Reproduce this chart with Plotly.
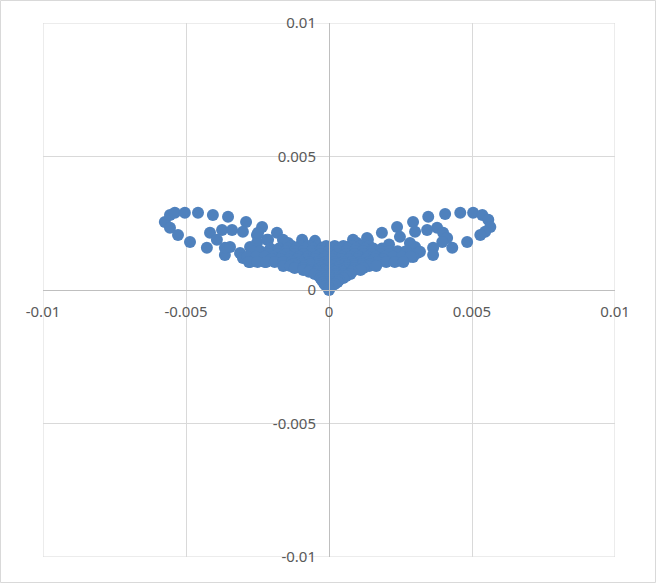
import plotly.graph_objects as go

# ---- data ----
left_wing_x = [-0.00574, -0.00556, -0.00539, -0.00504, -0.00458, -0.00406, -0.00353, -0.00290,
               -0.00234, -0.00182, -0.00556, -0.00528, -0.00486, -0.00427, -0.00416, -0.00374,
               -0.00339, -0.00301, -0.00392, -0.00364, -0.00364, -0.00311, -0.00252, -0.00252,
               -0.00276, -0.00217, -0.00161, -0.00143, -0.00094, -0.00059, -0.00301, -0.00276,
               -0.00224, -0.00248, -0.00213, -0.00346, -0.00094, -0.00049]
left_wing_y = [0.00255, 0.00281, 0.00289, 0.00289, 0.00289, 0.00281, 0.00274, 0.00255,
               0.00236, 0.00214, 0.00233, 0.00206, 0.00180, 0.00158, 0.00214, 0.00225,
               0.00225, 0.00218, 0.00188, 0.00131, 0.00158, 0.00139, 0.00206, 0.00176,
               0.00161, 0.00188, 0.00188, 0.00176, 0.00176, 0.00161, 0.00120, 0.00105,
               0.00105, 0.00214, 0.00188, 0.00161, 0.00188, 0.00184]

right_wing_x = [0.00294, 0.00301, 0.00347, 0.00406, 0.00459, 0.00504, 0.00536, 0.00557,
                0.00564, 0.00546, 0.00529, 0.00483, 0.00431, 0.00343, 0.00378, 0.00399,
                0.00413, 0.00396, 0.00364, 0.00364, 0.00301, 0.00308, 0.00098, 0.00063,
                0.00136, 0.00185, 0.00238, 0.00248, 0.00283, 0.00318, 0.00266, 0.00238,
                0.00294, 0.00084, 0.00133, 0.00210]
right_wing_y = [0.00255, 0.00218, 0.00274, 0.00285, 0.00289, 0.00289, 0.00281, 0.00263,
                0.00236, 0.00218, 0.00206, 0.00180, 0.00158, 0.00225, 0.00233, 0.00214,
                0.00195, 0.00180, 0.00158, 0.00131, 0.00161, 0.00139, 0.00176, 0.00161,
                0.00188, 0.00214, 0.00236, 0.00199, 0.00176, 0.00143, 0.00143, 0.00124,
                0.00124, 0.00188, 0.00195, 0.00170]

# dense core, row by row: (y, x values)
core_rows = [
    (0.00165, [-0.0013, -0.0010, -0.0007, -0.0004, -0.0001, 0.0002, 0.0005, 0.0008, 0.0011, 0.0014]),
    (0.00155, [-0.00205, -0.00175, -0.00145, -0.00115, -0.00085, -0.00055, -0.00025, 0.00005, 0.00035,
               0.00065, 0.00095, 0.00125, 0.00155, 0.00185]),
    (0.00145, [-0.0027, -0.0024, -0.0021, -0.0018, -0.0015, -0.0012, -0.0009, -0.0006, -0.0003, 0.0,
               0.0003, 0.0006, 0.0009, 0.0012, 0.0015, 0.0018, 0.0021, 0.0024, 0.0027]),
    (0.00135, [-0.0021, -0.0018, -0.0015, -0.0012, -0.0009, -0.0006, -0.0003, 0.0, 0.0003, 0.0006,
               0.0009, 0.0012, 0.0015, 0.0018, 0.0021]),
    (0.00125, [-0.00285, -0.00255, -0.00225, -0.00195, -0.00165, -0.00135, -0.00105, -0.00075, -0.00045,
               -0.00015, 0.00015, 0.00045, 0.00075, 0.00105, 0.00135, 0.00165, 0.00195, 0.00225,
               0.00255, 0.00285]),
    (0.00115, [-0.0020, -0.0017, -0.0014, -0.0011, -0.0008, -0.0005, -0.0002, 0.0001, 0.0004, 0.0007,
               0.0010, 0.0013, 0.0016, 0.0019]),
    (0.00105, [-0.0028, -0.0025, -0.0022, -0.0019, -0.0016, -0.0013, -0.0010, -0.0007, -0.0004, -0.0001,
               0.0002, 0.0005, 0.0008, 0.0011, 0.0014, 0.0017, 0.0020, 0.0023, 0.0026]),
    (0.00097, [-0.00125, -0.00095, -0.00065, -0.00035, -0.00005, 0.00025, 0.00055, 0.00085, 0.00115,
               0.00145]),
    (0.00090, [-0.0016, -0.00135, -0.0011, -0.00085, -0.0006, -0.00035, -0.0001, 0.00015, 0.0004,
               0.00065, 0.0009, 0.00115, 0.0014, 0.00165]),
    (0.00082, [-0.0012, -0.0009, -0.0006, -0.0003, 0.0, 0.0003, 0.0006, 0.0009, 0.0012]),
    (0.00075, [-0.0009, -0.00065, -0.0004, -0.00015, 0.0001, 0.00035, 0.0006, 0.00085, 0.0011]),
    (0.00068, [-0.0007, -0.0004, -0.0001, 0.0002, 0.0005, 0.0008]),
    (0.00060, [-0.0005, -0.00025, 0.0, 0.00025, 0.0005, 0.00075]),
    (0.00052, [-0.00035, -0.00015, 0.00005, 0.00025, 0.00045, 0.0006]),
    (0.00045, [-0.0003, -0.0001, 0.0001, 0.0003, 0.0005]),
    (0.00037, [-0.00025, -0.00005, 0.00015, 0.00035]),
    (0.00030, [-0.0002, 0.0, 0.0002, 0.0003]),
    (0.00022, [-0.00015, 0.00005, 0.0002]),
    (0.00015, [-0.0001, 0.0001]),
    (0.00008, [0.0]),
    (0.0, [0.0]),
]

x_ticks = [-0.01, -0.005, 0, 0.005, 0.01]
x_tick_text = ["-0.01", "-0.005", "0", "0.005", "0.01"]
y_ticks = [-0.01, -0.005, 0, 0.005, 0.01]
y_tick_text = ["-0.01", "-0.005", "0", "0.005", "0.01"]

# ---- assemble ----
xs = list(left_wing_x) + list(right_wing_x)
ys = list(left_wing_y) + list(right_wing_y)
for yv, row in core_rows:
    xs.extend(row)
    ys.extend([yv] * len(row))

W, H = 656, 583
ml, mr, mt, mb = 43, 41, 23, 26
pw, ph = W - ml - mr, H - mt - mb

fig = go.Figure()
fig.add_trace(go.Scatter(
    x=xs, y=ys, mode="markers",
    marker=dict(size=12, color="#4F81BD", line=dict(width=0)),
    hoverinfo="x+y", showlegend=False, cliponaxis=False,
))

font = dict(family="Noto Sans, Open Sans, sans-serif", size=15, color="#595959")

fig.update_layout(
    width=W, height=H,
    margin=dict(l=ml, r=mr, t=mt, b=mb, pad=0, autoexpand=False),
    paper_bgcolor="white", plot_bgcolor="white",
    font=font,
    xaxis=dict(
        range=[-0.01, 0.01], tickvals=x_ticks, ticktext=x_tick_text,
        showgrid=True, gridcolor="#D9D9D9", gridwidth=1,
        zeroline=False, showline=True, linecolor="#BFBFBF", linewidth=1,
        anchor="free", position=0.5, ticks="", ticklabelstandoff=8,
        tickfont=font, fixedrange=True, automargin=False,
    ),
    yaxis=dict(
        range=[-0.01, 0.01], tickvals=y_ticks, ticktext=y_tick_text,
        showgrid=True, gridcolor="#D9D9D9", gridwidth=1,
        zeroline=False, showline=True, linecolor="#BFBFBF", linewidth=1,
        anchor="free", position=0.5, ticks="", ticklabelstandoff=10,
        tickfont=font, fixedrange=True, automargin=False,
    ),
    shapes=[
        dict(type="rect", xref="paper", yref="paper",
             x0=-(ml - 0.5) / pw, x1=1 + (mr - 0.5) / pw,
             y0=-(mb - 0.5) / ph, y1=1 + (mt - 0.5) / ph,
             line=dict(color="#D9D9D9", width=1), layer="below"),
        dict(type="rect", xref="x", yref="y",
             x0=-0.01, x1=0.01, y0=-0.01, y1=0.01,
             line=dict(color="#D9D9D9", width=1), layer="below"),
    ],
)

fig.write_html("out.html", config={"displayModeBar": False},
               post_script="document.body.style.margin='0';document.body.style.overflow='hidden';")
